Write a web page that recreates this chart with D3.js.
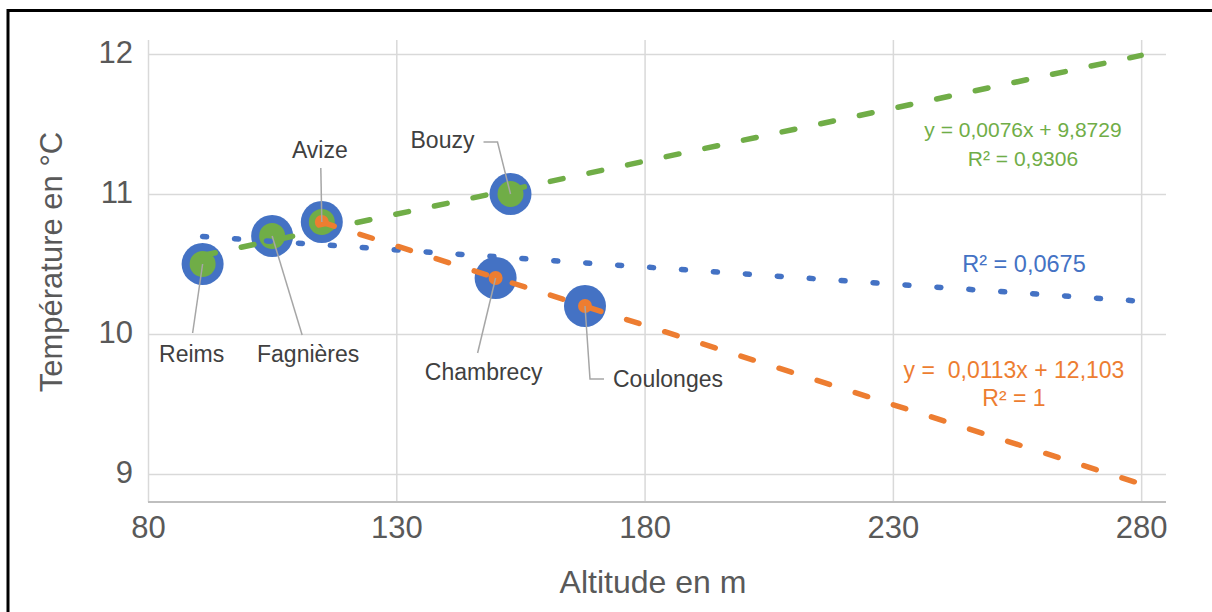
<!DOCTYPE html>
<html>
<head>
<meta charset="utf-8">
<script src="https://cdn.jsdelivr.net/npm/d3@7"></script>
<style>
  html, body { margin: 0; padding: 0; background: #fff; }
  svg { display: block; font-family: "Liberation Sans", Arial, sans-serif; }
  text { white-space: pre; }
</style>
</head>
<body>
<svg id="chart" width="1212" height="612"></svg>
<script>
// ---- data ----
const stations     = ["Reims", "Fagnières", "Avize", "Bouzy", "Chambrecy", "Coulonges"];
const altitudes    = [91, 105, 115, 153, 150, 168];
const temperatures = [10.5, 10.7, 10.8, 11.0, 10.4, 10.2];
const greenStations  = ["Reims", "Fagnières", "Avize", "Bouzy"];
const orangeStations = ["Avize", "Chambrecy", "Coulonges"];
const xTicks = [80, 130, 180, 230, 280];
const yTicks = [9, 10, 11, 12];
const trendEnd = 280;
const greenEquation  = ["y = 0,0076x + 9,8729", "R² = 0,9306"];
const blueEquation   = ["R² = 0,0675"];
const orangeEquation = ["y =  0,0113x + 12,103", "R² = 1"];

// ---- layout ----
const W = 1212, H = 612;
const plot = { left: 148, right: 1166, top: 40, bottom: 502 };
const colors = { blue: "#4472C4", green: "#70AD47", orange: "#ED7D31",
                 grid: "#D9D9D9", axis: "#BFBFBF", tick: "#595959", label: "#404040", leader: "#A6A6A6" };
// label placement relative to marker centre: text anchor point and leader polyline
const labelLayout = {
  "Reims":     { text: [-11, 98],  leader: [[-10, 69]] },
  "Fagnières": { text: [36, 126],  leader: [[30, 99]] },
  "Avize":     { text: [-2, -64],  leader: [[-1, -54]] },
  "Bouzy":     { text: [-68, -46], leader: [[-13, -52], [-27, -52]] },
  "Chambrecy": { text: [-12, 102], leader: [[-18, 75]] },
  "Coulonges": { text: [83, 81],   leader: [[5, 73], [19, 73]] }
};

const svg = d3.select("#chart");
const x = d3.scaleLinear().domain([80, 285]).range([plot.left, plot.right]);
const y = d3.scaleLinear().domain([8.8, 12.1]).range([plot.bottom, plot.top]);

const points = stations.map((s, i) => ({ name: s, x: altitudes[i], y: temperatures[i] }));
const greenPts  = points.filter(p => greenStations.includes(p.name));
const orangePts = points.filter(p => orangeStations.includes(p.name));

// border
svg.append("rect").attr("x", 8).attr("y", 10.5).attr("width", W + 10).attr("height", H + 10)
  .attr("fill", "none").attr("stroke", "#000").attr("stroke-width", 3);

// gridlines
const yGrid = d3.axisLeft(y).tickValues(yTicks).tickSize(-(plot.right - plot.left)).tickFormat("");
svg.append("g").attr("transform", `translate(${plot.left},0)`).call(yGrid)
  .call(g => g.select(".domain").remove())
  .call(g => g.selectAll("line").attr("stroke", colors.grid).attr("stroke-width", 1.5));
const xGrid = d3.axisBottom(x).tickValues(xTicks).tickSize(-(plot.bottom - plot.top)).tickFormat("");
svg.append("g").attr("transform", `translate(0,${plot.bottom})`).call(xGrid)
  .call(g => g.select(".domain").remove())
  .call(g => g.selectAll("line").attr("stroke", colors.grid).attr("stroke-width", 1.5));
// bottom axis line
svg.append("line").attr("x1", plot.left).attr("x2", plot.right)
  .attr("y1", plot.bottom).attr("y2", plot.bottom).attr("stroke", colors.axis).attr("stroke-width", 2);

// tick labels
const xAxis = d3.axisBottom(x).tickValues(xTicks).tickSize(0).tickPadding(0).tickFormat(d3.format("d"));
svg.append("g").attr("transform", `translate(0,${plot.bottom})`).call(xAxis)
  .call(g => g.select(".domain").remove())
  .call(g => g.selectAll("text").attr("dy", null).attr("y", 36)
    .attr("font-size", 31).attr("fill", colors.tick).attr("font-family", "Liberation Sans, Arial, sans-serif"));
const yAxis = d3.axisLeft(y).tickValues(yTicks).tickSize(0).tickPadding(15).tickFormat(d3.format("d"));
svg.append("g").attr("transform", `translate(${plot.left},0)`).call(yAxis)
  .call(g => g.select(".domain").remove())
  .call(g => g.selectAll("text").attr("dy", null).attr("y", 8)
    .attr("font-size", 31).attr("fill", colors.tick).attr("font-family", "Liberation Sans, Arial, sans-serif"));

// axis titles
svg.append("text").attr("x", 653).attr("y", 593).attr("text-anchor", "middle")
  .attr("font-size", 32).attr("fill", colors.tick).text("Altitude en m");
svg.append("text").attr("transform", "translate(62,262) rotate(-90)").attr("text-anchor", "middle")
  .attr("font-size", 31).attr("fill", colors.tick).text("Température en °C");

// markers
const markerGroups = [
  { pts: points,    r: 21,  c: colors.blue },
  { pts: greenPts,  r: 13,  c: colors.green },
  { pts: orangePts, r: 7,   c: colors.orange }
];
markerGroups.forEach(m => {
  svg.append("g").selectAll("circle").data(m.pts).join("circle")
    .attr("cx", d => x(d.x)).attr("cy", d => y(d.y)).attr("r", m.r).attr("fill", m.c);
});

// linear regression trendlines
function regress(pts) {
  const mx = d3.mean(pts, p => p.x), my = d3.mean(pts, p => p.y);
  const sxy = d3.sum(pts, p => (p.x - mx) * (p.y - my));
  const sxx = d3.sum(pts, p => (p.x - mx) ** 2);
  const b = sxy / sxx;
  return { b, a: my - b * mx, x0: d3.min(pts, p => p.x) };
}
const line = d3.line().x(d => x(d[0])).y(d => y(d[1]));
const trends = [
  { pts: points,    c: colors.blue,   dash: "4 28", w: 5.5 },
  { pts: greenPts,  c: colors.green,  dash: "13 26.5", w: 5.5 },
  { pts: orangePts, c: colors.orange, dash: "13 27", w: 5.5 }
];
trends.forEach(t => {
  const r = regress(t.pts);
  const seg = [[r.x0, r.a + r.b * r.x0], [trendEnd, r.a + r.b * trendEnd]];
  svg.append("path").attr("d", line(seg)).attr("fill", "none").attr("stroke", t.c)
    .attr("stroke-width", t.w).attr("stroke-dasharray", t.dash).attr("stroke-linecap", "round");
});

// leader lines and station labels
points.forEach(p => {
  const cx = x(p.x), cy = y(p.y);
  const L = labelLayout[p.name];
  const pts = [[cx, cy]].concat(L.leader.map(o => [cx + o[0], cy + o[1]]));
  svg.append("path").attr("d", d3.line()(pts)).attr("fill", "none")
    .attr("stroke", colors.leader).attr("stroke-width", 1.5);
  svg.append("text").attr("x", cx + L.text[0]).attr("y", cy + L.text[1]).attr("text-anchor", "middle")
    .attr("font-size", 23).attr("fill", colors.label).text(p.name);
});

// equations
function eq(lines, cx, y0, gap, size, color) {
  lines.forEach((t, i) => svg.append("text").attr("x", cx).attr("y", y0 + i * gap)
    .attr("text-anchor", "middle").attr("font-size", size).attr("fill", color).text(t));
}
eq(greenEquation, 1023, 137, 29, 21, colors.green);
eq(blueEquation, 1024, 272, 0, 23.5, colors.blue);
eq(orangeEquation, 1014, 378, 28, 23, colors.orange);
</script>
</body>
</html>
